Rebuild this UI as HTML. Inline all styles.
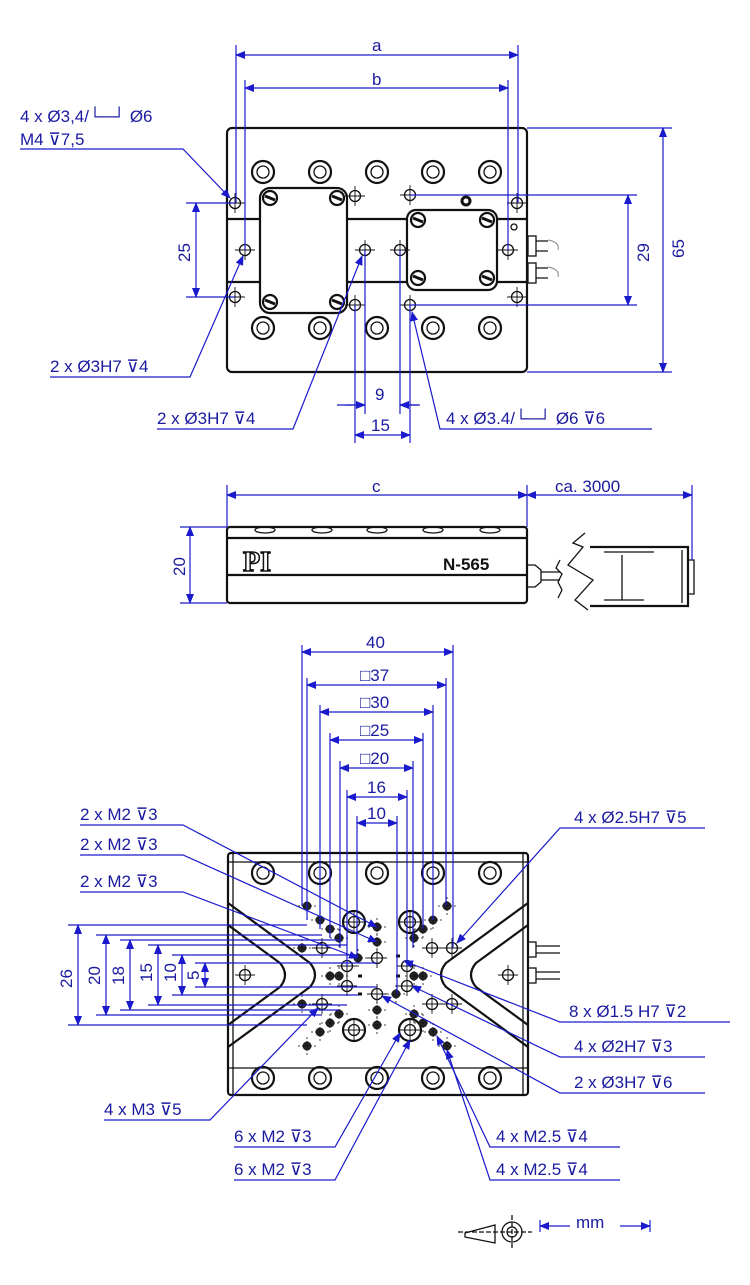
<!DOCTYPE html>
<html><head><style>
html,body{margin:0;padding:0;background:#fff;}
svg{display:block;}
text{font-family:"Liberation Sans",sans-serif;fill:#1a1aa0;font-size:17px;}
.k{stroke:#111;fill:none;stroke-width:2.2;}
.kt{stroke:#111;fill:none;stroke-width:1.3;}
.b{stroke:#1a1acc;fill:none;stroke-width:1.2;}
</style></head><body>
<svg width="750" height="1285" viewBox="0 0 750 1285" xmlns="http://www.w3.org/2000/svg">
<defs>
<marker id="a" markerWidth="10" markerHeight="8" refX="9" refY="4" orient="auto-start-reverse" markerUnits="userSpaceOnUse"><path d="M0,0 L10,4 L0,8 z" fill="#1a1acc"/></marker>
<g id="cb"><circle r="11" class="k"/><circle r="6" class="kt" stroke-width="2"/></g>
<g id="ch"><circle r="5.5" class="kt"/><path d="M-10,0H10M0,-10V10" stroke="#111" stroke-width="0.9"/></g>
<g id="dh"><circle r="4.5" fill="#222"/><path d="M-9,0H9M0,-9V9" stroke="#111" stroke-width="0.8" stroke-dasharray="2,2"/></g>
<g id="sc"><circle r="7" class="k" stroke-width="2.5"/><path d="M-5,-2L5,2" stroke="#111" stroke-width="3"/></g>
</defs>

<!-- ===== TOP VIEW ===== -->
<rect x="227" y="128" width="300" height="244" rx="5" class="k"/>
<path d="M227,219H260M347,219H407M497,219H527M227,282H260M347,282H407M497,282H527" class="k"/>
<rect x="260" y="188" width="87" height="125" rx="10" class="k"/>
<rect x="407" y="210" width="90" height="80" rx="9" class="k"/>
<g>
<use href="#cb" x="263" y="172"/><use href="#cb" x="320" y="172"/><use href="#cb" x="377" y="172"/><use href="#cb" x="433" y="172"/><use href="#cb" x="490" y="172"/>
<use href="#cb" x="263" y="328"/><use href="#cb" x="320" y="328"/><use href="#cb" x="377" y="328"/><use href="#cb" x="433" y="328"/><use href="#cb" x="490" y="328"/>
</g>
<use href="#sc" x="270" y="198"/><use href="#sc" x="337" y="198"/><use href="#sc" x="270" y="302"/><use href="#sc" x="337" y="302"/>
<use href="#sc" x="418" y="220"/><use href="#sc" x="487" y="220"/><use href="#sc" x="418" y="278"/><use href="#sc" x="487" y="278"/>
<use href="#ch" x="235" y="203"/><use href="#ch" x="245" y="250"/><use href="#ch" x="235" y="297"/>
<use href="#ch" x="355" y="196"/><use href="#ch" x="365" y="250"/><use href="#ch" x="400" y="250"/>
<use href="#ch" x="410" y="195"/><use href="#ch" x="410" y="305"/><use href="#ch" x="355" y="305"/>
<use href="#ch" x="517" y="203"/><use href="#ch" x="508" y="250"/><use href="#ch" x="517" y="297"/>
<circle cx="466" cy="201" r="4" fill="none" stroke="#111" stroke-width="3"/>
<circle cx="514" cy="227" r="3" class="kt"/>
<rect x="528" y="236" width="8" height="20" class="kt"/><rect x="528" y="263" width="8" height="20" class="kt"/>
<path d="M536,241H548M536,251H548M536,268H548M536,278H548" class="kt"/>
<path d="M548,240q12,2 10,10M548,267q12,2 10,10" stroke="#888" fill="none"/>

<path d="M236,45V203M518,45V203M245,80V250M508,80V250" class="b"/>
<path d="M236,55H518" class="b" marker-start="url(#a)" marker-end="url(#a)"/>
<path d="M245,88H508" class="b" marker-start="url(#a)" marker-end="url(#a)"/>
<text x="372" y="51">a</text><text x="372" y="85">b</text>
<path d="M527,128H672M527,372H672" class="b"/>
<path d="M663,128V372" class="b" marker-start="url(#a)" marker-end="url(#a)"/>
<text transform="translate(684,258) rotate(-90)">65</text>
<path d="M410,195H637M410,305H637" class="b"/>
<path d="M628,195V305" class="b" marker-start="url(#a)" marker-end="url(#a)"/>
<text transform="translate(649,262) rotate(-90)">29</text>
<path d="M186,203H235M186,297H235" class="b"/>
<path d="M196,203V297" class="b" marker-start="url(#a)" marker-end="url(#a)"/>
<text transform="translate(190,262) rotate(-90)">25</text>
<path d="M365,250V414M400,250V414M355,305V443M410,305V443" class="b"/>
<path d="M337,405H365M400,405H420" class="b"/>
<path d="M345,405H365" class="b" marker-end="url(#a)"/><path d="M418,405H400" class="b" marker-end="url(#a)"/>
<path d="M355,435H410" class="b" marker-start="url(#a)" marker-end="url(#a)"/>
<text x="375" y="400">9</text><text x="371" y="431">15</text>
<text x="20" y="122">4 x Ø3,4/└─┘ Ø6</text><text x="20" y="145">M4 ⊽7,5</text>
<path d="M20,149H183L230,198" class="b" marker-end="url(#a)"/>
<text x="50" y="372">2 x Ø3H7 ⊽4</text>
<path d="M50,377H190L243,256" class="b" marker-end="url(#a)"/>
<text x="157" y="424">2 x Ø3H7 ⊽4</text>
<path d="M157,429H293L362,256" class="b" marker-end="url(#a)"/>
<text x="446" y="424">4 x Ø3.4/└─┘ Ø6 ⊽6</text>
<path d="M652,429H440L412,312" class="b" marker-end="url(#a)"/>

<!-- ===== SIDE VIEW ===== -->
<rect x="227" y="527" width="300" height="76" rx="3" class="k"/>
<path d="M227,538H527M227,575H527" class="k"/>
<ellipse cx="265" cy="530" rx="10" ry="3" class="kt"/><ellipse cx="322" cy="530" rx="10" ry="3" class="kt"/><ellipse cx="377" cy="530" rx="10" ry="3" class="kt"/><ellipse cx="433" cy="530" rx="10" ry="3" class="kt"/><ellipse cx="490" cy="530" rx="10" ry="3" class="kt"/>
<text x="243" y="571" style="font-size:28px;font-weight:bold;fill:#fff;stroke:#111;stroke-width:1.5;font-family:'Liberation Serif',serif">PI</text>
<text x="443" y="570" style="fill:#111;font-weight:bold;font-size:17px">N-565</text>
<path d="M527,565h8l6,5v12l-6,5h-8z" class="kt"/>
<path d="M541,572H560M541,580H560" class="kt"/>
<path d="M560,560l-4,8 6,6-4,8 4,8-4,8" class="kt"/>
<path d="M585,533l-12,10 10,4-15,18 25,15-18,20 13,10" class="kt"/>
<path d="M590,547H688v59H590" class="k" stroke-width="1.6"/>
<path d="M682,550v53M688,560h6v34h-6M622,555v45M604,552h50M604,600h40" class="kt"/>
<path d="M227,485V527M527,485V527M692,485V560" class="b"/>
<path d="M227,495H527" class="b" marker-start="url(#a)" marker-end="url(#a)"/>
<path d="M527,495H692" class="b" marker-start="url(#a)" marker-end="url(#a)"/>
<text x="372" y="492">c</text><text x="555" y="492">ca. 3000</text>
<path d="M180,527H227M180,603H227" class="b"/>
<path d="M190,527V603" class="b" marker-start="url(#a)" marker-end="url(#a)"/>
<text transform="translate(185,576) rotate(-90)">20</text>

<!-- ===== BOTTOM VIEW ===== -->
<rect x="228" y="853" width="300" height="242" rx="3" class="k"/>
<path d="M233,853V1095M523,853V1095M228,862H528M228,1068H528" class="kt"/>
<path d="M228,903L310,963Q320,975 310,987L228,1047M228,925L280,963Q290,975 280,987L228,1025" class="k" stroke-width="3"/>
<path d="M528,903L446,963Q436,975 446,987L528,1047M528,925L476,963Q466,975 476,987L528,1025" class="k" stroke-width="3"/>
<use href="#ch" x="245" y="975"/><use href="#ch" x="508" y="975"/>
<g>
<use href="#cb" x="263" y="873"/><use href="#cb" x="320" y="873"/><use href="#cb" x="377" y="873"/><use href="#cb" x="433" y="873"/><use href="#cb" x="490" y="873"/>
<use href="#cb" x="263" y="1078"/><use href="#cb" x="320" y="1078"/><use href="#cb" x="377" y="1078"/><use href="#cb" x="433" y="1078"/><use href="#cb" x="490" y="1078"/>
</g>
<rect x="528" y="942" width="8" height="15" class="kt"/><rect x="528" y="968" width="8" height="15" class="kt"/>
<path d="M536,946H560M536,953H560M536,972H560M536,979H560" class="kt"/>
<circle cx="354" cy="922" r="11" class="k"/><use href="#ch" x="354" y="922"/>
<circle cx="410" cy="922" r="11" class="k"/><use href="#ch" x="410" y="922"/>
<circle cx="354" cy="1030" r="11" class="k"/><use href="#ch" x="354" y="1030"/>
<circle cx="410" cy="1030" r="11" class="k"/><use href="#ch" x="410" y="1030"/>
<use href="#dh" x="307" y="906"/><use href="#dh" x="447" y="906"/><use href="#dh" x="307" y="1046"/><use href="#dh" x="447" y="1046"/>
<use href="#dh" x="320" y="920"/><use href="#dh" x="433" y="920"/><use href="#dh" x="320" y="1032"/><use href="#dh" x="433" y="1032"/>
<use href="#dh" x="330" y="929"/><use href="#dh" x="423" y="929"/><use href="#dh" x="330" y="1023"/><use href="#dh" x="423" y="1023"/>
<use href="#dh" x="339" y="938"/><use href="#dh" x="414" y="938"/><use href="#dh" x="339" y="1014"/><use href="#dh" x="414" y="1014"/>
<use href="#dh" x="377" y="927"/><use href="#dh" x="377" y="942"/><use href="#dh" x="377" y="1010"/><use href="#dh" x="377" y="1025"/>
<use href="#dh" x="358" y="958"/><use href="#dh" x="396" y="994"/>
<use href="#dh" x="330" y="976"/><use href="#dh" x="339" y="976"/><use href="#dh" x="414" y="976"/><use href="#dh" x="423" y="976"/>
<use href="#dh" x="302" y="948"/><use href="#dh" x="302" y="1004"/>
<use href="#ch" x="322" y="948"/><use href="#ch" x="432" y="948"/><use href="#ch" x="322" y="1004"/><use href="#ch" x="432" y="1004"/>
<use href="#ch" x="452" y="948"/><use href="#ch" x="452" y="1004"/>
<use href="#ch" x="377" y="958"/><use href="#ch" x="377" y="994"/>
<use href="#ch" x="347" y="966"/><use href="#ch" x="347" y="986"/><use href="#ch" x="407" y="966"/><use href="#ch" x="407" y="986"/>
<path d="M358,976h4M396,956h4M396,976h4M358,994h4" stroke="#111" stroke-width="3"/>
<path d="M302,645V906M453,645V948M307,678V920M446,678V906M320,705V929M433,705V920M330,733V938M423,733V929M340,761V948M413,761V948M347,790V966M407,790V966M357,816V958M397,816V994" class="b"/>
<path d="M302,652H453" class="b" marker-start="url(#a)" marker-end="url(#a)"/>
<path d="M307,685H446" class="b" marker-start="url(#a)" marker-end="url(#a)"/>
<path d="M320,712H433" class="b" marker-start="url(#a)" marker-end="url(#a)"/>
<path d="M330,740H423" class="b" marker-start="url(#a)" marker-end="url(#a)"/>
<path d="M340,768H413" class="b" marker-start="url(#a)" marker-end="url(#a)"/>
<path d="M347,797H407" class="b" marker-start="url(#a)" marker-end="url(#a)"/>
<path d="M357,823H397" class="b" marker-start="url(#a)" marker-end="url(#a)"/>
<text x="366" y="648">40</text><text x="360" y="681">□37</text><text x="360" y="708">□30</text><text x="360" y="736">□25</text><text x="360" y="764">□20</text><text x="367" y="793">16</text><text x="367" y="819">10</text>
<path d="M68,925H307M68,1025H307M96,935H322M96,1015H322M120,940H339M120,1010H339M148,945H347M148,1005H347M172,955H358M172,995H358M195,963H377M195,987H377" class="b"/>
<path d="M78,925V1025" class="b" marker-start="url(#a)" marker-end="url(#a)"/>
<path d="M106,935V1015" class="b" marker-start="url(#a)" marker-end="url(#a)"/>
<path d="M130,940V1010" class="b" marker-start="url(#a)" marker-end="url(#a)"/>
<path d="M158,945V1005" class="b" marker-start="url(#a)" marker-end="url(#a)"/>
<path d="M182,955V995" class="b" marker-start="url(#a)" marker-end="url(#a)"/>
<path d="M205,963V987" class="b" marker-start="url(#a)" marker-end="url(#a)"/>
<text transform="translate(72,988) rotate(-90)">26</text><text transform="translate(100,985) rotate(-90)">20</text>
<text transform="translate(124,985) rotate(-90)">18</text><text transform="translate(152,982) rotate(-90)">15</text>
<text transform="translate(176,982) rotate(-90)">10</text><text transform="translate(199,980) rotate(-90)">5</text>
<text x="80" y="820">2 x M2 ⊽3</text><path d="M80,825H183L377,927" class="b" marker-end="url(#a)"/>
<text x="80" y="850">2 x M2 ⊽3</text><path d="M80,855H183L377,942" class="b" marker-end="url(#a)"/>
<text x="80" y="887">2 x M2 ⊽3</text><path d="M80,892H183L358,958" class="b" marker-end="url(#a)"/>
<text x="574" y="823">4 x Ø2.5H7 ⊽5</text><path d="M705,828H560L457,943" class="b" marker-end="url(#a)"/>
<text x="569" y="1017">8 x Ø1.5  H7 ⊽2</text><path d="M730,1022H560L404,961" class="b" marker-end="url(#a)"/>
<text x="574" y="1052">4 x Ø2H7 ⊽3</text><path d="M705,1057H560L412,986" class="b" marker-end="url(#a)"/>
<text x="574" y="1088">2 x Ø3H7 ⊽6</text><path d="M705,1093H560L382,996" class="b" marker-end="url(#a)"/>
<text x="104" y="1115">4 x M3 ⊽5</text><path d="M104,1120H210L318,1008" class="b" marker-end="url(#a)"/>
<text x="234" y="1142">6 x M2 ⊽3</text><path d="M234,1147H335L400,1033" class="b" marker-end="url(#a)"/>
<text x="234" y="1175">6 x M2 ⊽3</text><path d="M234,1180H335L410,1040" class="b" marker-end="url(#a)"/>
<text x="496" y="1142">4 x M2.5 ⊽4</text><path d="M620,1147H490L437,1036" class="b" marker-end="url(#a)"/>
<text x="496" y="1175">4 x M2.5 ⊽4</text><path d="M620,1180H490L447,1050" class="b" marker-end="url(#a)"/>
<path d="M465,1233l30,-8v18l-30,-6z" class="kt"/>
<circle cx="512" cy="1232" r="10" class="kt"/><circle cx="512" cy="1232" r="5" class="kt"/>
<path d="M458,1232H532M512,1215V1249" class="kt" stroke-dasharray="5,2"/>
<path d="M540,1226H570" class="b" marker-start="url(#a)"/><path d="M620,1226H650" class="b" marker-end="url(#a)"/>
<path d="M540,1220v12M650,1220v12" class="b"/>
<text x="576" y="1228">mm</text>
</svg>
</body></html>
